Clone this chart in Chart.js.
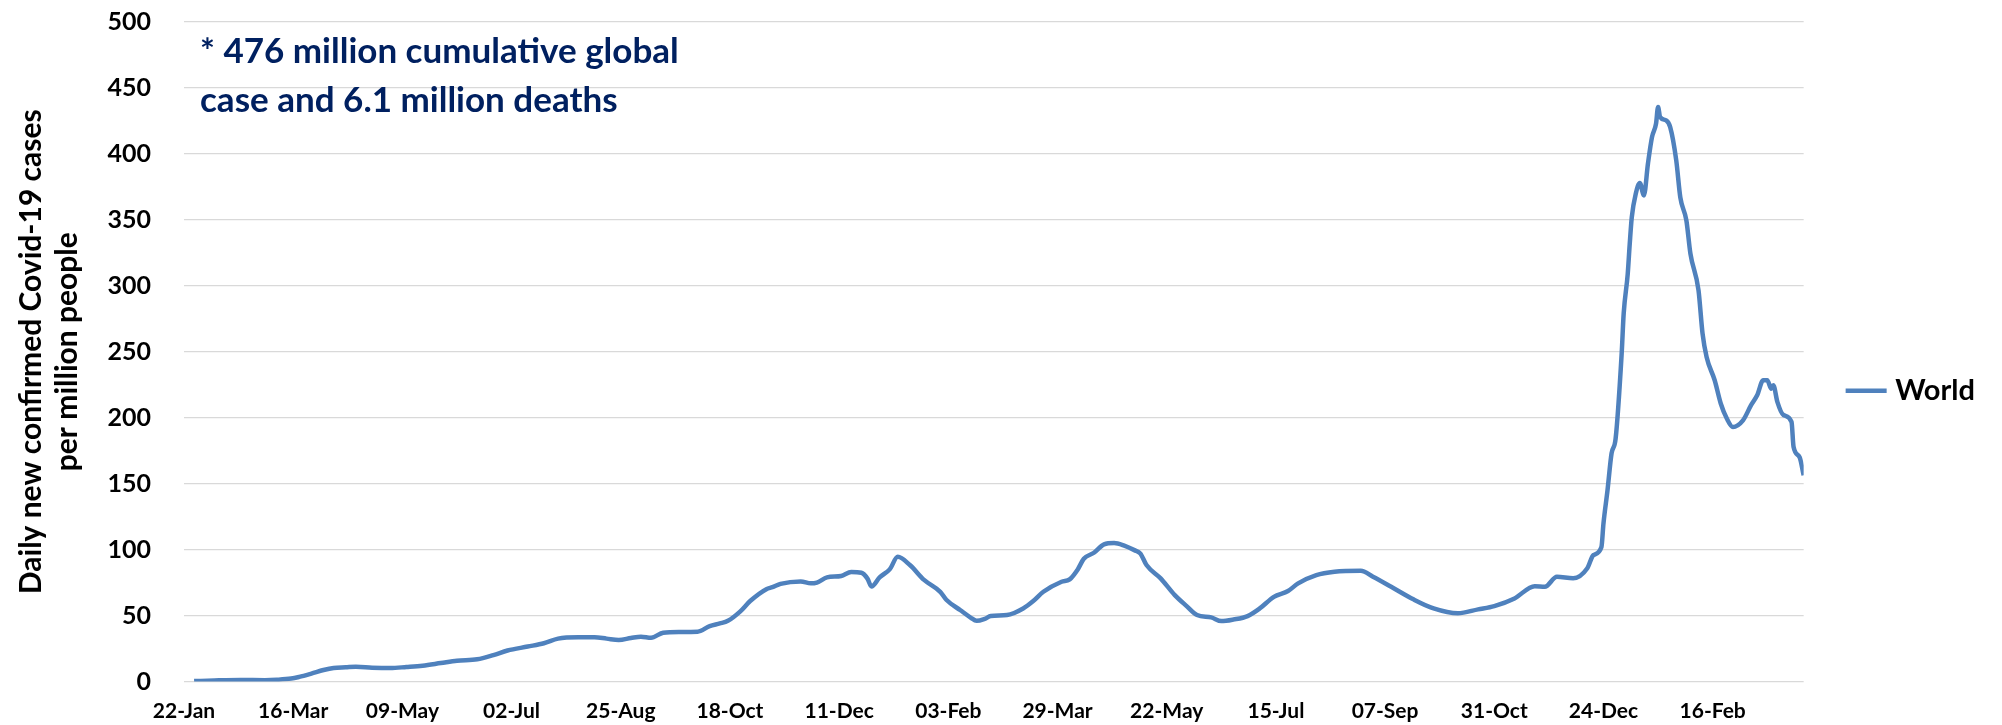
<!DOCTYPE html>
<html>
<head>
<meta charset="utf-8">
<script src="https://cdn.jsdelivr.net/npm/chart.js@4"></script>
<style>
  body { margin: 0; background: #fff; }
  #wrap { position: relative; width: 2002px; height: 725px; }
  #note {
    position: absolute; left: 200px; top: 25px;
    font: bold 35px Lato, sans-serif; line-height: 49px; color: #002060;
  }
</style>
</head>
<body>
<div id="wrap">
  <canvas id="chart" width="2002" height="725"></canvas>
  <div id="note">* 476 million cumulative global<br>case and 6.1 million deaths</div>
</div>
<script>
// days since 22-Jan-2020
const days = [
  0, 10, 23, 35, 41, 48, 52, 58, 64, 69, 75, 80, 88, 97, 105, 113, 122, 130, 140, 148,
  155, 165, 173, 180, 190, 198, 204, 210, 216, 221, 226, 232, 240, 249, 255, 260, 264, 270, 275, 283,
  286, 290, 300, 305, 308, 313, 320, 325, 330, 333, 335, 339, 344, 348, 354, 361, 369, 372, 379, 384,
  387, 391, 394, 402, 410, 415, 420, 429, 433, 437, 440, 445, 450, 455, 460, 465, 468, 471, 478, 485,
  491, 496, 503, 508, 514, 521, 527, 534, 541, 546, 555, 564, 577, 583, 592, 603, 613, 625, 635, 643,
  653, 663, 668, 674, 682, 689, 692, 696, 697, 699, 701, 703, 706, 707, 709, 710, 711, 713, 715, 717,
  719, 721, 723, 724, 725, 728, 730, 733, 735, 738, 740, 744, 746, 748, 752, 755, 758, 761, 766, 770,
  773, 776, 778, 780, 781, 783, 786, 790, 791, 794, 796
];

// daily new confirmed cases per million, World
const world = [
  0.3, 0.8, 1.2, 1.0, 1.3, 2.2, 3.5, 6, 8.7, 10.3, 10.8, 11.2, 10.5, 10.2, 11, 12, 14, 15.8, 16.8, 20,
  23.5, 26.5, 29, 32.5, 33.5, 33.5, 32.5, 31.5, 33, 34, 33.2, 37, 37.6, 37.8, 42, 44, 46, 53, 61, 70,
  71.5, 74, 75.9, 74.4, 75, 78.9, 80, 83, 82.4, 78, 72, 79, 85, 94.5, 88.3, 77, 68, 62, 54, 48.5,
  46, 47.5, 49.6, 50.4, 55.4, 61, 68, 75.6, 77.4, 85, 93, 97.6, 104, 105, 103, 99.6, 97, 88.3, 78.2, 65.5,
  57, 50.4, 48.6, 45.8, 47, 49.6, 55.4, 64.2, 68.6, 74.4, 80.7, 83.2, 83.9, 79.4, 71.8, 62.3, 55.4, 51.7, 54.7, 57.2,
  63, 72.3, 71.8, 79.4, 78.2, 85.8, 95.8, 102, 119.8, 145, 172.9, 184, 248.6, 279, 309, 332, 352, 370, 378, 368.5,
  392.6, 412.7, 422.9, 435.5, 428, 425.4, 420.3, 395, 367, 349.6, 324.4, 296.6, 263.8, 246, 228.4, 210.8, 199.4, 193, 198, 209.5,
  217, 228.4, 228.4, 222, 224.6, 212, 202, 196.8, 178, 170, 156.4
];

// x-axis labels, one every 54 days
const tickLabels = [
  "22-Jan", "16-Mar", "09-May", "02-Jul", "25-Aug", "18-Oct", "11-Dec", "03-Feb",
  "29-Mar", "22-May", "15-Jul", "07-Sep", "31-Oct", "24-Dec", "16-Feb"
];
const tickDays = tickLabels.map((t, i) => i * 54 - 5);

Chart.defaults.font.family = "Lato, sans-serif";
Chart.defaults.color = "#000";

const points = days.map((d, i) => ({ x: d, y: world[i] }));

new Chart(document.getElementById("chart"), {
  type: "line",
  data: {
    datasets: [{
      label: "World",
      data: points,
      borderColor: "#4F81BD",
      backgroundColor: "#4F81BD",
      borderWidth: 4.5,
      pointRadius: 0,
      cubicInterpolationMode: "monotone",
      borderJoinStyle: "round"
    }]
  },
  options: {
    responsive: false,
    animation: false,
    layout: { padding: { top: 22, bottom: 1.3, left: 0, right: 17 } },
    plugins: {
      tooltip: { enabled: false },
      legend: {
        position: "right",
        maxWidth: 199,
        title: { display: true, text: " ", font: { size: 30 }, padding: 0 },
        labels: {
          usePointStyle: true,
          pointStyle: "line",
          boxHeight: 29,
          padding: 48,
          color: "#000",
          font: { size: 29, weight: "bold" }
        }
      }
    },
    scales: {
      x: {
        type: "linear",
        min: -5,
        max: 796,
        // transparent tick marks give the gap under the axis
        grid: { display: true, drawOnChartArea: false, drawTicks: true, tickLength: 17, tickColor: "rgba(0,0,0,0)" },
        border: { display: false },
        afterBuildTicks: (scale) => {
          scale.ticks = tickDays.map((v) => ({ value: v }));
        },
        ticks: {
          autoSkip: false,
          maxRotation: 0,
          padding: 0,
          font: { size: 21, weight: "bold" },
          callback: (v) => tickLabels[tickDays.indexOf(v)]
        }
      },
      y: {
        min: 0,
        max: 500,
        grid: { color: "#d9d9d9", lineWidth: 1.3, drawTicks: true, tickLength: 33, tickColor: "rgba(0,0,0,0)" },
        border: { display: false },
        afterFit: (scale) => { scale.width = 184; },
        ticks: {
          stepSize: 50,
          padding: 0,
          font: { size: 25, weight: "bold" }
        },
        title: {
          display: true,
          text: ["Daily new confirmed Covid-19 cases", "per million people"],
          color: "#000",
          font: { size: 30, weight: "bold", lineHeight: 1.2 },
          padding: { top: 13, bottom: 0 }
        }
      }
    }
  }
});
</script>
</body>
</html>
